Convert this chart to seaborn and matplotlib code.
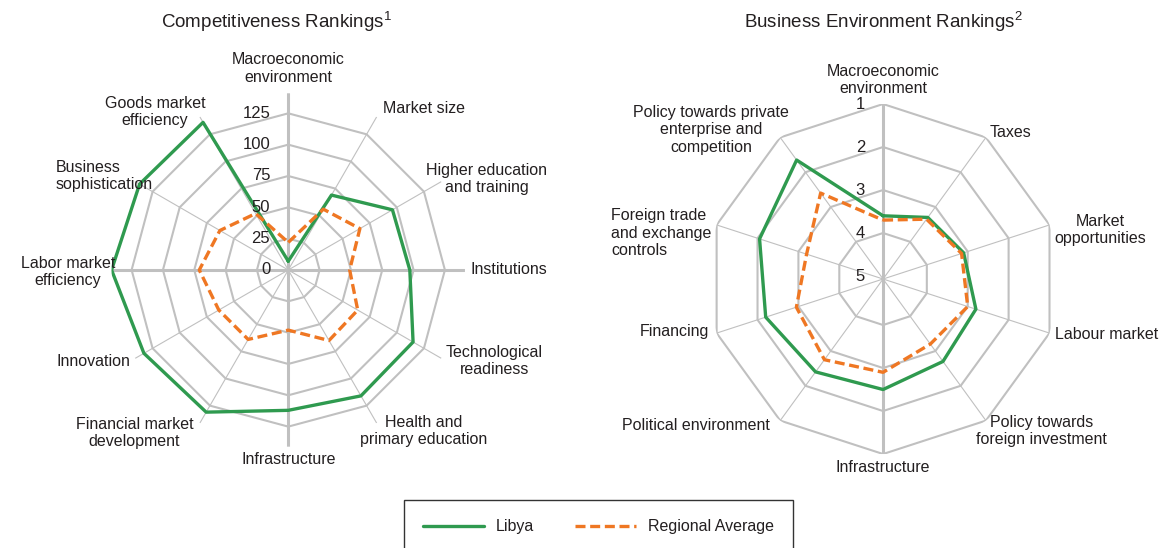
import numpy as np
import pandas as pd
import matplotlib
matplotlib.use("Agg")
import matplotlib.pyplot as plt
import seaborn as sns

# ---- data: left radar (Competitiveness), clockwise from the top ----
comp_labels = ["Macroeconomic\nenvironment", "Market size", "Higher education\nand training",
               "Institutions", "Technological\nreadiness", "Health and\nprimary education",
               "Infrastructure", "Financial market\ndevelopment", "Innovation",
               "Labor market\nefficiency", "Business\nsophistication", "Goods market\nefficiency"]
comp_libya = [7, 69, 96, 97, 115, 116, 112, 131, 133, 141, 137, 136]
comp_region = [22, 56, 66, 49, 64, 65, 48, 64, 64, 71, 63, 52]
comp_ticks = [0, 25, 50, 75, 100, 125]

# ---- data: right radar (Business Environment), clockwise from the top ----
biz_labels = ["Macroeconomic\nenvironment", "Taxes", "Market\nopportunities", "Labour market",
              "Policy towards\nforeign investment", "Infrastructure", "Political environment",
              "Financing", "Foreign trade\nand exchange\ncontrols",
              "Policy towards private\nenterprise and\ncompetition"]
biz_libya = [3.6, 3.3, 3.1, 2.8, 2.7, 2.5, 2.4, 2.2, 2.05, 1.65]
biz_region = [3.7, 3.35, 3.15, 3.0, 3.2, 2.9, 2.75, 2.95, 3.2, 2.6]
biz_ticks = [1, 2, 3, 4, 5]

series_names = ["Libya", "Regional Average"]

# small label nudges (pixels, x right / y down) to mimic the original label placement
comp_nudge = {0: (0, -3), 1: (4, -4), 2: (-20, 0), 5: (-19, 3), 7: (-4, 5), 9: (9, 2),
              10: (22, -3), 11: (8, 0)}
biz_nudge = {0: (0, -2), 2: (0, 7), 4: (-13, 6), 6: (-7, 0), 7: (-2, -3), 8: (0, 10), 9: (12, -3)}

GREEN = "#2f9a4f"
ORANGE = "#ef7723"
GRID = "#c0c0c0"
TEXT = "#231f20"

sns.set_theme(style="white")
plt.rcParams["font.family"] = ["Liberation Sans", "DejaVu Sans"]
plt.rcParams["mathtext.fontset"] = "custom"
plt.rcParams["mathtext.rm"] = "Liberation Sans"
plt.rcParams["text.color"] = TEXT


def draw_radar(ax, labels, libya, region, ticks, r_in, r_out, rings, thick, nudge, left_ma=()):
    n = len(labels)
    theta = np.arange(n) * 2 * np.pi / n
    ax.set_theta_zero_location("N")
    ax.set_theta_direction(-1)
    ax.set_ylim(r_in, r_out)
    ax.grid(False)
    ax.set_xticks([])
    ax.set_yticks([])
    ax.spines["polar"].set_visible(False)
    ax.patch.set_alpha(0)

    closed = np.r_[theta, 2 * np.pi]
    for lvl in rings:
        ax.plot(closed, [lvl] * (n + 1), color=GRID, lw=1.5, zorder=1)
    for i, t in enumerate(theta):
        ax.plot([t, t], [r_in, r_out], color=GRID, lw=2.2 if i in thick else 0.8, zorder=1)

    for vals, name, col, ls in [(libya, series_names[0], GREEN, "-"),
                                (region, series_names[1], ORANGE, (0, (3, 1.4)))]:
        df = pd.DataFrame({"theta": closed, "value": list(vals) + [vals[0]]})
        sns.lineplot(data=df, x="theta", y="value", sort=False, estimator=None, ax=ax,
                     color=col, lw=2.4, linestyle=ls, label=name, zorder=3)

    for i, t in enumerate(theta):
        s, c = np.sin(t), np.cos(t)
        ha = "left" if s > 0.05 else ("right" if s < -0.05 else "center")
        va = "bottom" if c > 0.95 else ("top" if c < -0.95 else "center")
        dx, dy = nudge.get(i, (0, 0))
        ax.annotate(labels[i], xy=(t, r_out),
                    xytext=(s * 4 + dx * 0.72, c * 4 - dy * 0.72), textcoords="offset points",
                    ha=ha, va=va, ma="left" if i in left_ma else "center",
                    fontsize=11.5, linespacing=1.2, annotation_clip=False)

    for v in ticks:
        ax.annotate(str(v), xy=(0, v), xytext=(-13, 0), textcoords="offset points",
                    ha="right", va="center", fontsize=12, annotation_clip=False)
    ax.set_xlabel("")
    ax.set_ylabel("")


fig = plt.figure(figsize=(11.68, 5.48), dpi=100)

ax1 = fig.add_axes([0.0955, 0.1849, 0.3026, 0.6449], projection="polar")
draw_radar(ax1, comp_labels, comp_libya, comp_region, comp_ticks, 0, 141,
           comp_ticks[1:], thick={0, 3, 6, 9}, nudge=comp_nudge, left_ma={10})

ax2 = fig.add_axes([0.6062, 0.1715, 0.2997, 0.6387], projection="polar")
draw_radar(ax2, biz_labels, biz_libya, biz_region, biz_ticks, 5.07, 1,
           biz_ticks[:-1], thick={0, 5}, nudge=biz_nudge, left_ma={8})

fig.text(276 / 1168, 1 - 22 / 548, "Competitiveness Rankings$^{1}$", ha="center", va="center",
         fontsize=13.5)
fig.text(883 / 1168, 1 - 22 / 548, "Business Environment Rankings$^{2}$", ha="center", va="center",
         fontsize=13.5)

handles, names = ax1.get_legend_handles_labels()
ax1.get_legend().remove()
ax2.get_legend().remove()
leg = fig.legend(handles, names, loc="upper center", bbox_to_anchor=(598.5 / 1168, 1 - 500 / 548),
                 ncol=2, frameon=True, fancybox=False, fontsize=11.5, handlelength=3.8,
                 handletextpad=0.75, columnspacing=2.6, borderpad=1.2, borderaxespad=0)
leg.get_frame().set_edgecolor("#000000")
leg.get_frame().set_linewidth(1.0)

fig.savefig("out.png", dpi=100)
